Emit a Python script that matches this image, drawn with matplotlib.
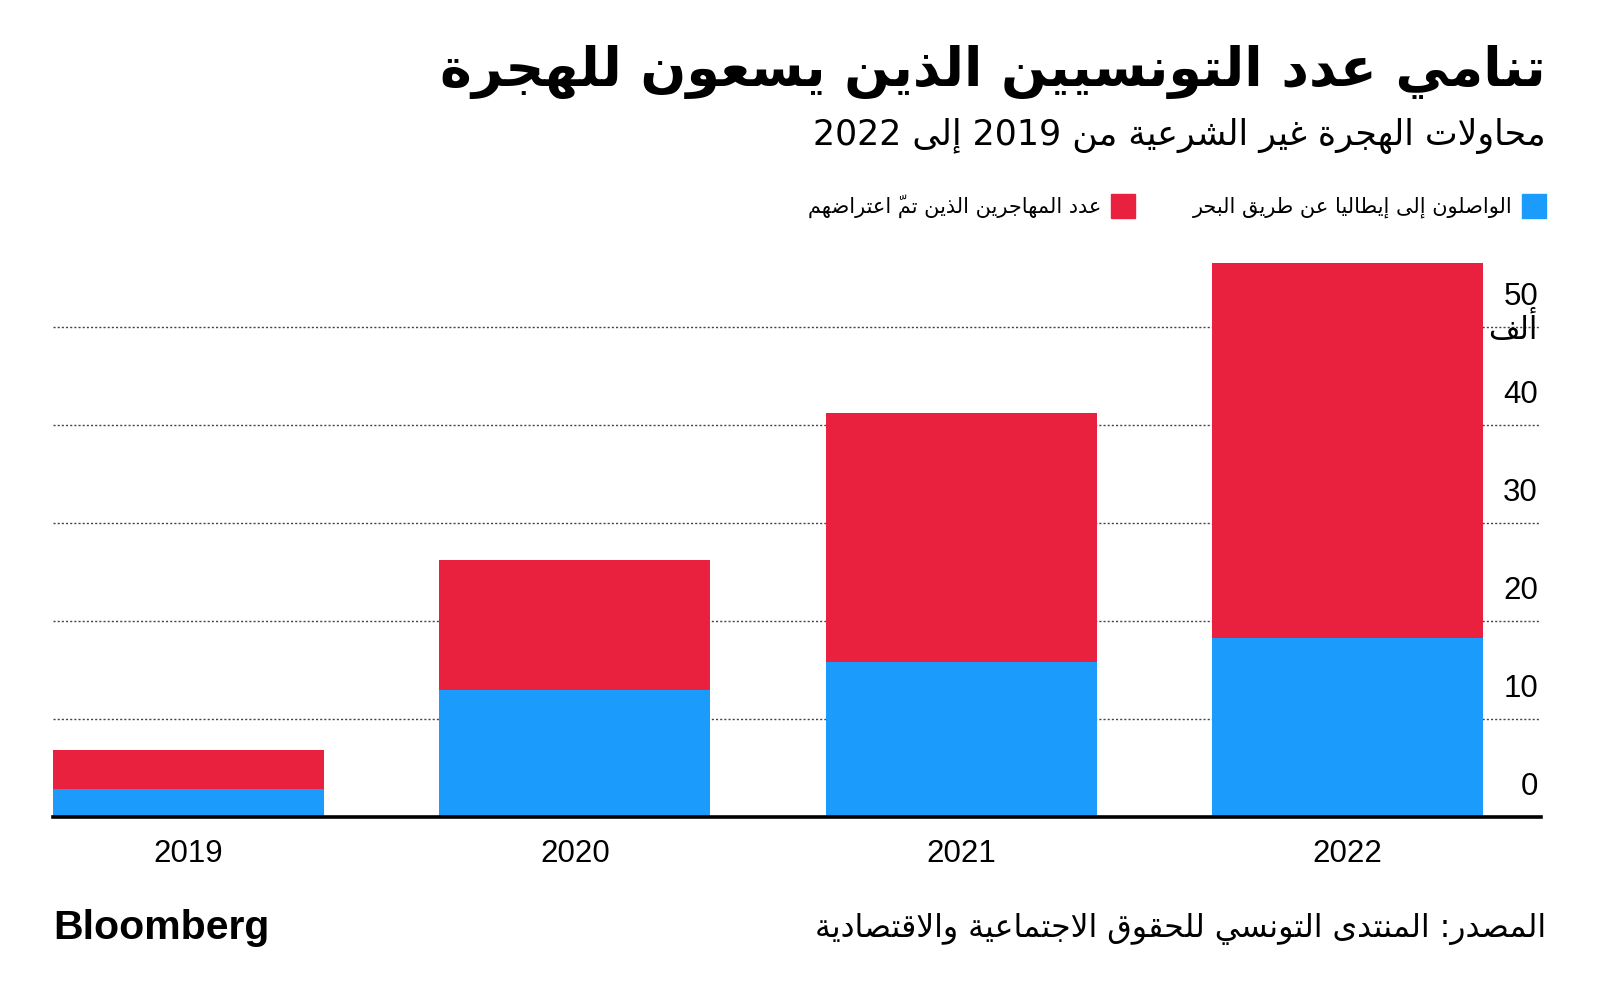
import numpy as np
import matplotlib
matplotlib.use('Agg')
import matplotlib.pyplot as plt
from matplotlib.patches import Patch

# ── Data (thousands of people) ────────────────────────────────────────────────
years = ['2019', '2020', '2021', '2022']
arrived = [2.9, 13.0, 15.8, 18.3]          # reached Italy by sea
intercepted = [3.9, 13.25, 25.45, 38.2]    # intercepted migrants
y_ticks = [0, 10, 20, 30, 40, 50]

TITLE = 'تنامي عدد التونسيين الذين يسعون للهجرة'
SUBTITLE = 'محاولات الهجرة غير الشرعية من 2019 إلى 2022'
LEG_ARRIVED = 'الواصلون إلى إيطاليا عن طريق البحر'
LEG_INTERCEPTED = 'عدد المهاجرين الذين تمّ اعتراضهم'
UNIT = 'ألف'
SOURCE = 'المصدر: المنتدى التونسي للحقوق الاجتماعية والاقتصادية'

COL_BLUE = '#1B9CFC'
COL_RED = '#EA213E'
AR_FONT = 'DejaVu Sans'
NUM_FONT = 'Liberation Sans'

# ── Minimal Arabic shaping (matplotlib has no complex text layout) ────────────
_LETTERS = [chr(c) for c in range(0x621, 0x63B)] + [chr(c) for c in range(0x641, 0x64B)]
_NFORMS = [1, 2, 2, 2, 2, 4, 2, 4, 2, 4, 4, 4, 4, 4, 2, 2, 2, 2,
           4, 4, 4, 4, 4, 4, 4, 4, 4, 4, 4, 4, 4, 4, 4, 2, 2, 4]
_FORMS = {}
_cp = 0xFE80
for _ch, _n in zip(_LETTERS, _NFORMS):
    _FORMS[_ch] = list(range(_cp, _cp + _n))
    _cp += _n
_LAM = '\u0644'
_LAM_ALEF = {'\u0622': 0xFEF5, '\u0623': 0xFEF7, '\u0625': 0xFEF9, '\u0627': 0xFEFB}


def _is_mark(ch):
    return 0x064B <= ord(ch) <= 0x065F or ch == '\u0670'


def _shape_word(word):
    # split into clusters: base letter + following marks
    clusters = []
    for ch in word:
        if _is_mark(ch) and clusters:
            clusters[-1][1] += ch
        else:
            clusters.append([ch, ''])
    # merge lam + alef into one ligature cluster
    merged = []
    i = 0
    while i < len(clusters):
        base, marks = clusters[i]
        if base == _LAM and i + 1 < len(clusters) and clusters[i + 1][0] in _LAM_ALEF:
            merged.append(['LA' + clusters[i + 1][0], marks + clusters[i + 1][1]])
            i += 2
        else:
            merged.append([base, marks])
            i += 1

    def nforms(b):
        if b.startswith('LA'):
            return 2
        return len(_FORMS.get(b, []))

    out = []
    for i, (base, marks) in enumerate(merged):
        n = nforms(base)
        if n == 0:
            out.append(marks + base)
            continue
        prev_joins = i > 0 and nforms(merged[i - 1][0]) == 4 and n >= 2
        next_joins = n == 4 and i + 1 < len(merged) and nforms(merged[i + 1][0]) >= 2
        if base.startswith('LA'):
            g = _LAM_ALEF[base[2]] + (1 if prev_joins else 0)
        else:
            f = _FORMS[base]
            if prev_joins and next_joins:
                g = f[3]
            elif prev_joins:
                g = f[1]
            elif next_joins:
                g = f[2]
            else:
                g = f[0]
        # mark placed before its base so it is drawn over it
        out.append(marks + chr(g))
    return ''.join(reversed(out))


def ar(text):
    """Shape Arabic text and put it in visual (left-to-right) order."""
    tokens = []
    for tok in text.split(' '):
        if any('\u0600' <= c <= '\u06FF' for c in tok):
            tokens.append(_shape_word(tok))
        else:
            tokens.append(tok)
    return ' '.join(reversed(tokens))


# ── Figure ────────────────────────────────────────────────────────────────────
W, H = 1600, 1005
fig = plt.figure(figsize=(W / 100, H / 100), dpi=100)

YMAX = 57
ax_left, ax_right = 53, 1541
ax_bottom = 817
ax_top = ax_bottom - YMAX * 9.8
ax = fig.add_axes([ax_left / W, 1 - ax_bottom / H,
                   (ax_right - ax_left) / W, (ax_bottom - ax_top) / H])

x = np.arange(len(years))
ax.bar(x, arrived, width=0.7, color=COL_BLUE, zorder=3)
ax.bar(x, intercepted, width=0.7, bottom=arrived, color=COL_RED, zorder=3)

ax.set_xlim(-0.35, 3.5)
ax.set_ylim(0, YMAX)

for s in ['top', 'left', 'right']:
    ax.spines[s].set_visible(False)
ax.spines['bottom'].set_linewidth(2.6)
ax.spines['bottom'].set_color('black')
ax.spines['bottom'].set_zorder(4)

ax.set_yticks(y_ticks[1:])
ax.yaxis.grid(True, linestyle=(0, (1.5, 1.5)), color='#444444', lw=1.0)
ax.tick_params(axis='y', length=0, labelleft=False)
ax.set_axisbelow(True)

ax.set_xticks(x, years)
ax.tick_params(axis='x', length=0, pad=16, labelsize=22.5)
for lab in ax.get_xticklabels():
    lab.set_fontfamily(NUM_FONT)

# y labels sit above their gridline, right-aligned at the plot edge
for v in y_ticks:
    ax.annotate(str(v), xy=(1, v), xycoords=ax.get_yaxis_transform(),
                xytext=(-3, 15), textcoords='offset pixels',
                ha='right', va='bottom', fontsize=22.5, family=NUM_FONT)
ax.annotate(ar(UNIT), xy=(1, 50), xycoords=ax.get_yaxis_transform(),
            xytext=(-3, -1), textcoords='offset pixels',
            ha='right', va='center', fontsize=22, family=AR_FONT)

# ── Titles ────────────────────────────────────────────────────────────────────
fig.text(1546 / W, 1 - 72 / H, ar(TITLE), ha='right', va='center',
         fontsize=38.7, fontweight='bold', family=AR_FONT)
fig.text(1546 / W, 1 - 136 / H, ar(SUBTITLE), ha='right', va='center',
         fontsize=25, family=AR_FONT)

# ── Legend (right-to-left: swatch on the right of its label) ─────────────────
handles = [Patch(color=COL_RED), Patch(color=COL_BLUE)]
labels = [ar(LEG_INTERCEPTED), ar(LEG_ARRIVED)]
fig.legend(handles, labels, ncol=2, markerfirst=False, frameon=False,
           loc='center right', bbox_to_anchor=(1546 / W, 1 - 206 / H),
           prop={'family': AR_FONT, 'size': 15},
           handlelength=1.15, handleheight=1.37, handletextpad=0.45,
           columnspacing=2.8, borderpad=0, borderaxespad=0)

# ── Footer ────────────────────────────────────────────────────────────────────
fig.text(53 / W, 1 - 928 / H, 'Bloomberg', ha='left', va='center',
         fontsize=29.5, fontweight='bold', family=NUM_FONT)
fig.text(1546 / W, 1 - 929 / H, ar(SOURCE), ha='right', va='center',
         fontsize=22.7, family=AR_FONT)

fig.savefig('out.png', dpi=100, facecolor='white')
